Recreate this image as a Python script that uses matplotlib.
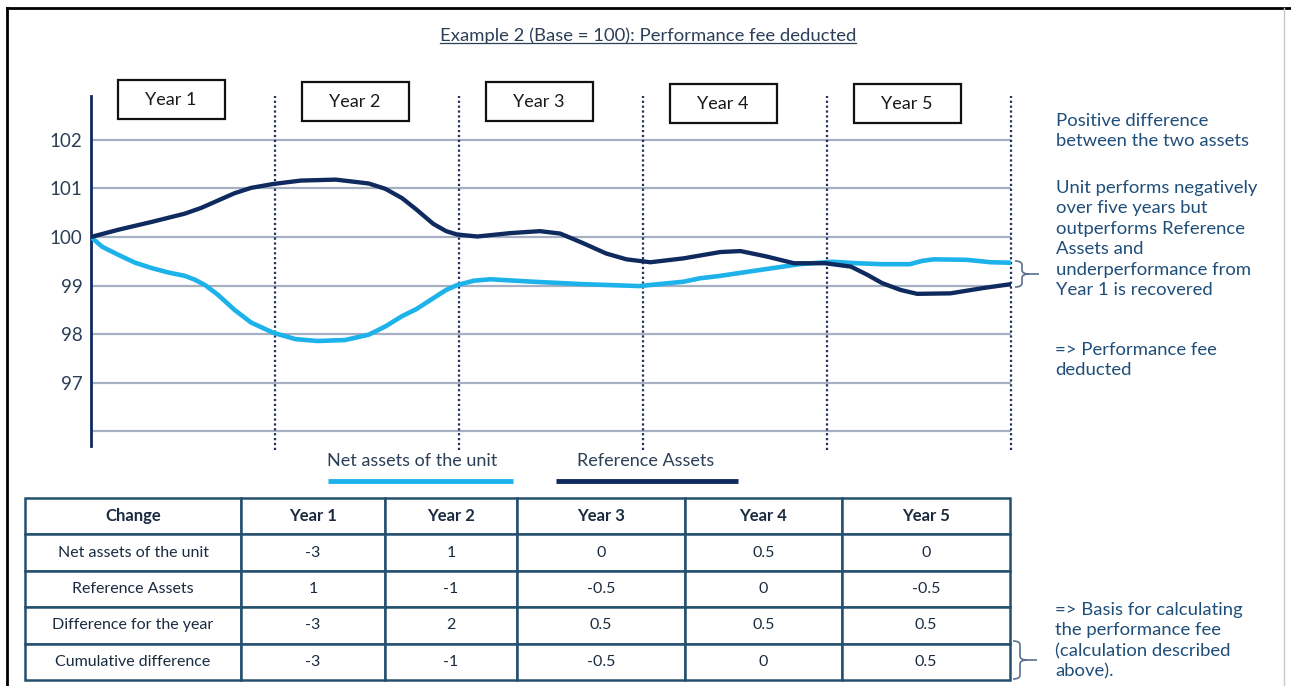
import matplotlib
matplotlib.use("Agg")
import matplotlib.pyplot as plt
from matplotlib.path import Path
from matplotlib.patches import PathPatch, Rectangle

plt.rcParams['font.family'] = ['Lato', 'DejaVu Sans']

# data
YEARS = ["Year 1", "Year 2", "Year 3", "Year 4", "Year 5"]
Y_TICKS = [97, 98, 99, 100, 101, 102]
GRID_Y = [96, 97, 98, 99, 100, 101, 102]

ref_t = [0, 0.15, 0.33, 0.51, 0.6, 0.69, 0.78, 0.87, 0.99, 1.14, 1.33, 1.51, 1.6,
         1.69, 1.77, 1.86, 1.93, 1.99, 2.1, 2.28, 2.44, 2.55, 2.67, 2.8, 2.91, 3.04,
         3.22, 3.42, 3.53, 3.67, 3.82, 3.99, 4.13, 4.22, 4.3, 4.4, 4.49, 4.67, 4.85, 5.0]
ref_v = [100, 100.15, 100.31, 100.48, 100.6, 100.75, 100.9, 101.01, 101.09, 101.16,
         101.18, 101.1, 100.99, 100.8, 100.56, 100.27, 100.12, 100.05, 100.01, 100.08,
         100.12, 100.07, 99.88, 99.66, 99.54, 99.48, 99.56, 99.69, 99.71, 99.6, 99.46,
         99.46, 99.39, 99.22, 99.05, 98.91, 98.83, 98.84, 98.95, 99.03]

net_t = [0, 0.06, 0.15, 0.24, 0.33, 0.42, 0.51, 0.565, 0.62, 0.69, 0.78, 0.87, 0.99,
         1.11, 1.23, 1.38, 1.51, 1.6, 1.69, 1.77, 1.86, 1.93, 1.99, 2.08, 2.17, 2.4,
         2.67, 2.98, 3.22, 3.31, 3.42, 3.58, 3.85, 4.03, 4.16, 4.3, 4.45, 4.52, 4.58,
         4.76, 4.89, 5.0]
net_v = [100, 99.8, 99.63, 99.47, 99.36, 99.27, 99.2, 99.12, 99.01, 98.81, 98.5,
         98.24, 98.03, 97.9, 97.86, 97.88, 97.99, 98.16, 98.37, 98.52, 98.74, 98.91,
         99.01, 99.1, 99.13, 99.08, 99.03, 98.99, 99.08, 99.15, 99.2, 99.29, 99.44,
         99.49, 99.46, 99.44, 99.44, 99.51, 99.54, 99.53, 99.48, 99.47]

COL_LABELS = ["Change", "Year 1", "Year 2", "Year 3", "Year 4", "Year 5"]
ROW_LABELS = ["Net assets of the unit", "Reference Assets",
              "Difference for the year", "Cumulative difference"]
net_change = ["-3", "1", "0", "0.5", "0"]
ref_change = ["1", "-1", "-0.5", "0", "-0.5"]
diff_year = ["-3", "2", "0.5", "0.5", "0.5"]
cum_diff = ["-3", "-1", "-0.5", "0", "0.5"]

# colors
NAVY = "#0f2a5f"
LIGHT = "#1db3ea"
GRID = "#a7afc2"
DOTS = "#1f2f5a"
TEXT_DARK = "#2b3f57"
TEXT_BLUE = "#1f4e79"
TABLE_EDGE = "#24506f"

W, H = 1291, 686
fig = plt.figure(figsize=(W / 100, H / 100), dpi=100)


def fig_box(x0, y0, x1, y1):
    return [x0 / W, 1 - y1 / H, (x1 - x0) / W, (y1 - y0) / H]


# pixel canvas for decorations
canvas = fig.add_axes([0, 0, 1, 1])
canvas.set_xlim(0, W)
canvas.set_ylim(H, 0)
canvas.axis("off")

# outer frame
canvas.plot([7, W], [8, 8], color="black", lw=2)
canvas.plot([7, 7], [8, H], color="black", lw=2)
canvas.plot([1284, 1284], [8, H], color="#c8c8c8", lw=1)

# title (underlined further down)
title = canvas.text(648, 36, "Example 2 (Base = 100): Performance fee deducted",
                    ha="center", va="center", fontsize=13.3, color=TEXT_DARK)

# line chart
ax = fig.add_axes(fig_box(91, 96, 1011, 446))
ax.patch.set_visible(False)
ax.set_xlim(0, 5)
ax.set_ylim(95.7, 102.9)
for g in GRID_Y:
    ax.axhline(g, color=GRID, lw=1.6, zorder=1)
for i in range(1, len(YEARS) + 1):
    ax.axvline(i, ymin=-0.01, ymax=1.0, color=DOTS, lw=1.6, ls=(0, (1, 1.2)),
               zorder=2, clip_on=False)
ax.plot(net_t, net_v, color=LIGHT, lw=3.3, solid_joinstyle="round",
        solid_capstyle="round", zorder=4)
ax.plot(ref_t, ref_v, color=NAVY, lw=3.1, solid_joinstyle="round",
        solid_capstyle="round", zorder=5)
for s in ("top", "right", "bottom"):
    ax.spines[s].set_visible(False)
ax.spines["left"].set_color(NAVY)
ax.spines["left"].set_linewidth(2)
ax.set_xticks([])
ax.set_yticks(Y_TICKS)
ax.tick_params(axis="y", length=0, pad=6, labelsize=13.5, labelcolor=TEXT_DARK)

# year boxes
box_tops = [80, 82, 82, 84, 84]
for i, (name, top) in enumerate(zip(YEARS, box_tops)):
    cx = 91 + 184 * (i + 0.435)
    canvas.add_patch(Rectangle((cx - 53, top), 107, 39, fill=False,
                               edgecolor="#111111", lw=1.6))
    canvas.text(cx, top + 20, name, ha="center", va="center",
                fontsize=13, color="#1a1a1a")

# right-hand notes
note_kw = dict(ha="left", va="top", fontsize=13.3, color=TEXT_BLUE, linespacing=1.34)
canvas.text(1056, 113, "Positive difference\nbetween the two assets", **note_kw)
canvas.text(1056, 180, "Unit performs negatively\nover five years but\noutperforms Reference\n"
            "Assets and\nunderperformance from\nYear 1 is recovered", **note_kw)
canvas.text(1055, 342, "=> Performance fee\ndeducted", **note_kw)
canvas.text(1055, 602, "=> Basis for calculating\nthe performance fee\n"
            "(calculation described\nabove).", **note_kw)


def brace(x, ytop, ybot, w=14, tick=10):
    ym = (ytop + ybot) / 2
    xm = x + w / 2
    verts = [(x, ytop), (xm, ytop), (xm, ytop + 4), (xm, ym - 4), (xm, ym), (x + w, ym),
             (x + w, ym), (xm, ym), (xm, ym + 4), (xm, ybot - 4), (xm, ybot), (x, ybot),
             (x + w, ym), (x + w + tick, ym)]
    codes = [Path.MOVETO, Path.CURVE3, Path.CURVE3, Path.LINETO, Path.CURVE3, Path.CURVE3,
             Path.MOVETO, Path.CURVE3, Path.CURVE3, Path.LINETO, Path.CURVE3, Path.CURVE3,
             Path.MOVETO, Path.LINETO]
    canvas.add_patch(PathPatch(Path(verts, codes), fill=False, edgecolor="#5a6f8c", lw=1.2))


brace(1015, 261, 287)
brace(1013, 641, 679)

# legend (text above a thick line)
canvas.text(412, 461, "Net assets of the unit", ha="center", va="center",
            fontsize=13, color=TEXT_DARK)
canvas.plot([328, 513], [481, 481], color=LIGHT, lw=3.5, solid_capstyle="butt")
canvas.text(646, 461, "Reference Assets", ha="center", va="center",
            fontsize=13, color=TEXT_DARK)
canvas.plot([556, 738], [481, 481], color=NAVY, lw=3.5, solid_capstyle="butt")

# table
tax = fig.add_axes(fig_box(25, 498, 1010, 680))
tax.axis("off")
col_px = [216, 144, 132, 168, 157, 168]
rows = [[lab] + vals for lab, vals in
        zip(ROW_LABELS, [net_change, ref_change, diff_year, cum_diff])]
tbl = tax.table(cellText=rows, colLabels=COL_LABELS,
                colWidths=[c / sum(col_px) for c in col_px],
                cellLoc="center", bbox=[0, 0, 1, 1])
tbl.auto_set_font_size(False)
tbl.set_fontsize(11.5)
for (r, c), cell in tbl.get_celld().items():
    cell.set_edgecolor(TABLE_EDGE)
    cell.set_linewidth(1.8)
    cell.get_text().set_color("#1a2b40")
    if r == 0:
        cell.get_text().set_fontweight("bold")
        cell.get_text().set_fontsize(12)

# underline under the title
fig.canvas.draw()
bb = title.get_window_extent().transformed(canvas.transData.inverted())
y_ul = max(bb.y0, bb.y1) - 1
canvas.plot([bb.x0, bb.x1], [y_ul, y_ul], color=TEXT_DARK, lw=0.9)

fig.savefig("out.png", dpi=100)
